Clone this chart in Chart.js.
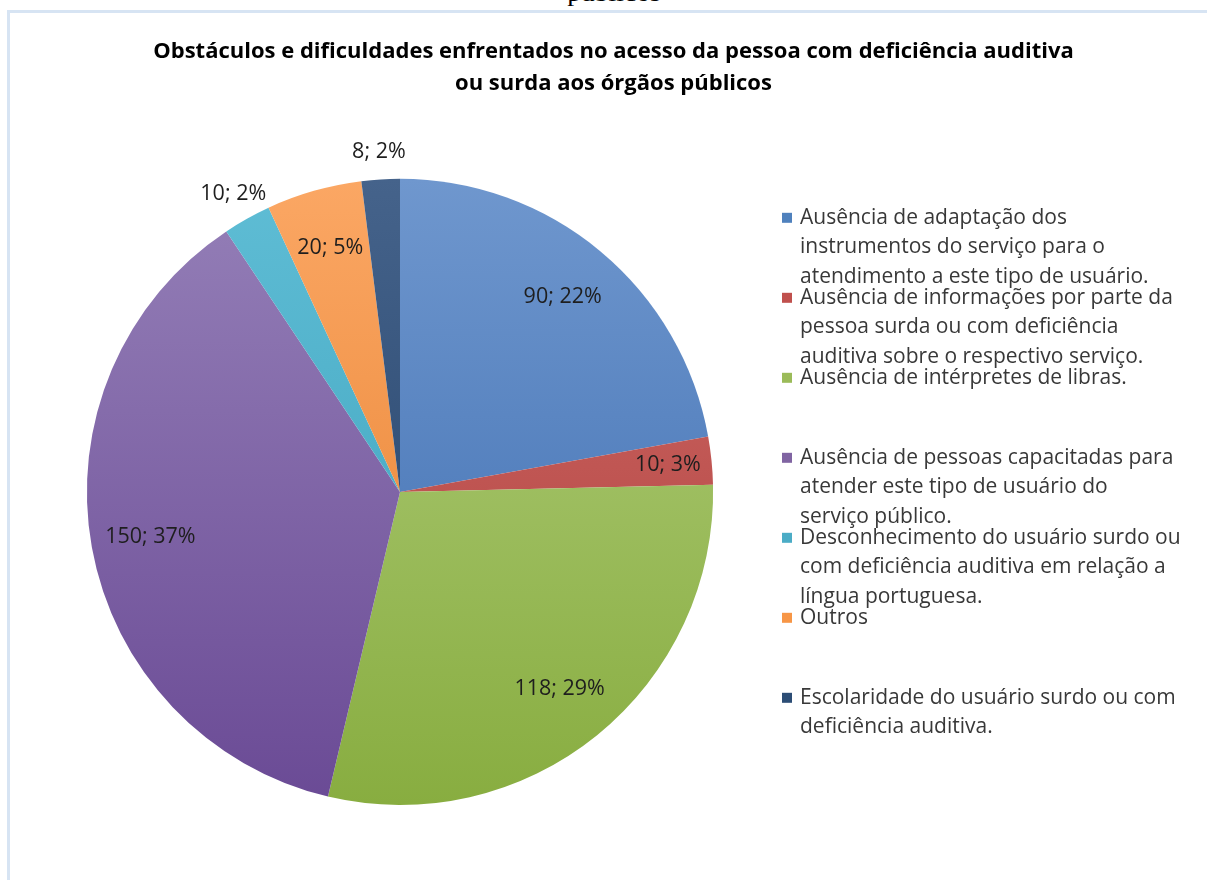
<!DOCTYPE html>
<html lang="pt">
<head>
<meta charset="utf-8">
<title>Obstáculos e dificuldades</title>
<script src="https://cdn.jsdelivr.net/npm/chart.js@4.4.1/dist/chart.umd.min.js"></script>
<style>
  html, body { margin: 0; padding: 0; background: #fff; width: 1207px; height: 880px; overflow: hidden; }
  #caption {
    position: absolute; left: 0; top: -19px; width: 1228px; text-align: center;
    font-family: "Liberation Serif", "DejaVu Serif", serif; font-size: 23px; color: #000;
    transform: scaleX(1.2);
  }
  #frame {
    position: absolute; left: 7px; top: 10px; width: 1230px; height: 900px;
    border-top: 3px solid #d7e4f3; border-left: 3px solid #d7e4f3;
  }
  #chart { position: absolute; left: 0; top: 0; }
</style>
</head>
<body>
<div id="caption">públicos</div>
<div id="frame"></div>
<canvas id="chart" width="1207" height="880"></canvas>
<script>
// legend categories, already broken into the lines seen in the picture
const categories = [
    ["Ausência de adaptação dos", "instrumentos do serviço para o", "atendimento a este tipo de usuário."],
    ["Ausência de informações por parte da", "pessoa surda ou com deficiência", "auditiva sobre o respectivo serviço."],
    ["Ausência de intérpretes de libras."],
    ["Ausência de pessoas capacitadas para", "atender este tipo de usuário do", "serviço público."],
    ["Desconhecimento do usuário surdo ou", "com deficiência auditiva em relação a", "língua portuguesa."],
    ["Outros"],
    ["Escolaridade do usuário surdo ou com", "deficiência auditiva."]
];
const counts = [90, 10, 118, 150, 10, 20, 8];
const percentLabels = ["22%", "3%", "29%", "37%", "2%", "5%", "2%"];
const labelOutside = [false, false, false, false, true, false, true];

const titleLines = [
    "Obstáculos e dificuldades enfrentados no acesso da pessoa com deficiência auditiva",
    "ou surda aos órgãos públicos"
];

// Office style fills: lighter at the top of the pie, darker at the bottom
const colorsTop = ["#6f97ce", "#d06d6a", "#b2ce7e", "#9580b8", "#5fbdd5", "#fba764", "#45638b"];
const colorsBottom = ["#3a6aae", "#ad3b38", "#88ad40", "#6a4a95", "#3a9fba", "#e57e2b", "#1f3d64"];
const colorsFlat = ["#4f81bd", "#c0504d", "#9bbb59", "#8064a2", "#4bacc6", "#f79646", "#2c4d75"];

const FONT = "'Open Sans', Lato, sans-serif";

function sliceFill(context) {
    const i = context.dataIndex;
    const area = context.chart.chartArea;
    if (!area) return colorsFlat[i];
    const g = context.chart.ctx.createLinearGradient(0, area.top, 0, area.bottom);
    g.addColorStop(0, colorsTop[i]);
    g.addColorStop(1, colorsBottom[i]);
    return g;
}

// "value; pct" labels on the slices
const sliceLabels = {
    id: "sliceLabels",
    afterDatasetsDraw(chart) {
        const ctx = chart.ctx;
        const meta = chart.getDatasetMeta(0);
        const total = counts.reduce((a, b) => a + b, 0);
        ctx.save();
        ctx.font = "21.5px " + FONT;
        ctx.fillStyle = "#1e1e1e";
        ctx.textAlign = "center";
        ctx.textBaseline = "middle";
        meta.data.forEach((arc, i) => {
            const p = arc.getProps(["x", "y", "startAngle", "endAngle", "outerRadius"], true);
            const mid = (p.startAngle + p.endAngle) / 2;
            const share = counts[i] / total;
            let r;
            if (labelOutside[i]) r = p.outerRadius + 28;
            else r = p.outerRadius * (share < 0.03 ? 0.86 : 0.81);
            ctx.fillText(counts[i] + "; " + percentLabels[i], p.x + Math.cos(mid) * r, p.y + Math.sin(mid) * r);
        });
        ctx.restore();
    }
};

// right hand legend as a layout box of fixed width
const sideLegend = {
    id: "sideLegend",
    beforeInit(chart) {
        const box = {
            position: "right",
            weight: 0,
            fullSize: false,
            options: { stackWeight: 1 },
            left: 0, top: 0, right: 0, bottom: 0, width: 0, height: 0,
            isHorizontal() { return false; },
            update(maxWidth, maxHeight) { this.width = 427; this.height = maxHeight; },
            draw() {
                const ctx = chart.ctx;
                ctx.save();
                ctx.font = "21px " + FONT;
                ctx.textBaseline = "middle";
                ctx.textAlign = "left";
                categories.forEach((lines, i) => {
                    const y0 = this.top + 39 + i * 80;
                    ctx.fillStyle = colorsFlat[i];
                    ctx.fillRect(this.left + 2, y0 - 5, 10, 10);
                    ctx.fillStyle = "#383838";
                    lines.forEach((t, k) => ctx.fillText(t, this.left + 20, y0 + k * 29.5));
                });
                ctx.restore();
            }
        };
        Chart.layouts.addBox(chart, box);
    }
};

new Chart(document.getElementById("chart"), {
    type: "pie",
    data: {
        labels: categories.map(c => c.join(" ")),
        datasets: [{
            data: counts,
            backgroundColor: sliceFill,
            borderWidth: 0
        }]
    },
    options: {
        responsive: false,
        animation: false,
        layout: { padding: { left: 20, right: 0, top: 0, bottom: 75 } },
        plugins: {
            legend: { display: false },
            tooltip: { enabled: false },
            title: {
                display: true,
                text: titleLines,
                color: "#000",
                font: { family: FONT, size: 22, weight: "bold", lineHeight: 1.45 },
                padding: { top: 36, bottom: 79 }
            }
        }
    },
    plugins: [sliceLabels, sideLegend]
});
</script>
</body>
</html>
